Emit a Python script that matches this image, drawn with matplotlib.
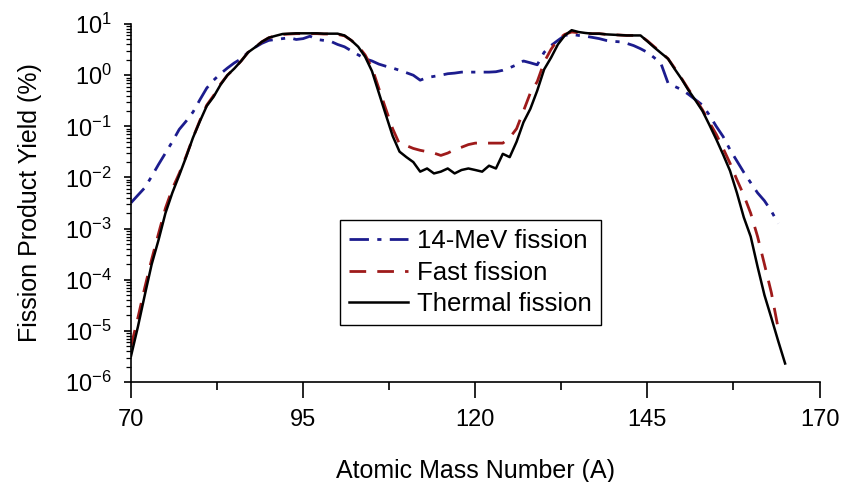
import matplotlib
matplotlib.use("Agg")
import matplotlib.pyplot as plt
from matplotlib.ticker import FixedLocator, LogLocator, NullFormatter

plt.rcParams['font.family'] = ['Liberation Sans', 'DejaVu Sans']

# Atomic mass numbers
A_thermal = list(range(70, 166))
thermal = [3.2e-6, 1.2e-5, 5e-5, 2e-4, 6e-4, 2e-3, 5e-3, 1.1e-2, 2.5e-2, 6e-2,
           0.125, 0.25, 0.38, 0.65, 1.0, 1.35, 1.9, 2.8, 3.5, 4.5,
           5.4, 5.9, 6.4, 6.5, 6.6, 6.6, 6.6, 6.6, 6.5, 6.5,
           6.5, 6.0, 4.8, 3.6, 2.3, 1.2, 0.45, 0.17, 0.065, 0.032,
           0.025, 0.02, 0.013, 0.015, 0.012, 0.013, 0.015, 0.012, 0.014, 0.015,
           0.014, 0.013, 0.017, 0.015, 0.029, 0.025, 0.05, 0.12, 0.22, 0.5,
           1.3, 2.2, 4.0, 6.0, 7.6, 7.0, 6.7, 6.5, 6.5, 6.3,
           6.2, 6.1, 6.0, 6.0, 6.0, 4.6, 3.5, 2.7, 2.1, 1.3,
           0.83, 0.5, 0.32, 0.2, 0.107, 0.056, 0.028, 0.0135, 5e-3, 1.66e-3,
           7e-4, 1.8e-4, 5e-5, 1.8e-5, 6.3e-6, 2.3e-6]

A_fast = list(range(70, 165))
fast = [5e-6, 1.8e-5, 7e-5, 2.5e-4, 8e-4, 2.5e-3, 6e-3, 1.2e-2, 2.6e-2, 6e-2,
        0.13, 0.26, 0.4, 0.67, 1.0, 1.35, 1.9, 2.8, 3.5, 4.5,
        5.4, 5.9, 6.3, 6.4, 6.5, 6.5, 6.5, 6.5, 6.4, 6.4,
        6.3, 5.9, 4.8, 3.7, 2.5, 1.4, 0.55, 0.22, 0.09, 0.045,
        0.042, 0.037, 0.034, 0.032, 0.03, 0.027, 0.03, 0.035, 0.039, 0.044,
        0.047, 0.047, 0.047, 0.047, 0.047, 0.06, 0.09, 0.2, 0.45, 0.75,
        1.8, 3.2, 5.0, 6.3, 7.0, 6.8, 6.6, 6.5, 6.5, 6.3,
        6.2, 6.1, 6.0, 6.0, 5.9, 4.7, 3.6, 2.8, 2.1, 1.35,
        0.85, 0.52, 0.34, 0.21, 0.12, 0.07, 0.037, 0.019, 9e-3, 4.5e-3,
        2e-3, 7e-4, 2e-4, 5.6e-5, 1.1e-5]

A_mev = list(range(70, 165))
mev14 = [3.2e-3, 4.5e-3, 6.3e-3, 0.0105, 0.018, 0.03, 0.05, 0.087, 0.126, 0.19,
         0.33, 0.56, 0.8, 1.07, 1.38, 1.74, 2.1, 2.8, 3.5, 4.2,
         4.8, 5.0, 5.2, 5.4, 5.0, 5.2, 5.8, 5.0, 4.8, 4.6,
         4.0, 3.6, 3.0, 2.5, 2.1, 1.9, 1.65, 1.5, 1.38, 1.25,
         1.12, 1.0, 0.8, 0.9, 0.95, 1.0, 1.07, 1.1, 1.15, 1.15,
         1.15, 1.15, 1.15, 1.17, 1.25, 1.4, 1.6, 1.9, 1.75, 1.6,
         2.8, 3.8, 4.8, 6.0, 6.3, 6.0, 5.8, 5.5, 5.2, 4.8,
         4.6, 4.5, 4.2, 3.8, 3.3, 2.8, 2.2, 1.65, 0.7, 0.6,
         0.52, 0.42, 0.33, 0.26, 0.166, 0.1, 0.063, 0.035, 0.021, 0.0126,
         7.9e-3, 5e-3, 3.5e-3, 2.2e-3, 1.26e-3]

labels = ["14-MeV fission", "Fast fission", "Thermal fission"]
x_ticks = [70, 95, 120, 145, 170]
x_minor = [82.5, 107.5, 132.5, 157.5]

fig = plt.figure(figsize=(8.49, 4.82), dpi=100)
ax = fig.add_axes([0.1543, 0.2075, 0.811, 0.7425])

ax.plot(A_mev, mev14, color='#1c1c8e', lw=2.0, linestyle=(0, (7, 3, 1.5, 3)), label=labels[0])
ax.plot(A_fast, fast, color='#9e1a1a', lw=2.0, linestyle=(0, (6, 4)), label=labels[1])
ax.plot(A_thermal, thermal, color='black', lw=1.8, label=labels[2])

ax.set_yscale('log')
ax.set_ylim(1e-6, 10)
ax.set_xlim(70, 170)
ax.set_xticks(x_ticks)
ax.xaxis.set_minor_locator(FixedLocator(x_minor))
ax.yaxis.set_major_locator(LogLocator(base=10, numticks=20))
ax.yaxis.set_minor_locator(LogLocator(base=10, subs=range(2, 10), numticks=20))
ax.yaxis.set_minor_formatter(NullFormatter())

for s in ['top', 'right']:
    ax.spines[s].set_visible(False)
for s in ['left', 'bottom']:
    ax.spines[s].set_linewidth(1.2)

ax.tick_params(axis='x', which='major', direction='out', length=11.5, width=1.2, labelsize=17, pad=8)
ax.tick_params(axis='x', which='minor', direction='out', length=5.8, width=1.2)
ax.tick_params(axis='y', which='major', direction='out', length=5, width=1.2, labelsize=17, pad=9)
ax.tick_params(axis='y', which='minor', direction='out', length=3.6, width=0.9)

ax.set_xlabel("Atomic Mass Number (A)", fontsize=18, labelpad=20)
ax.set_ylabel("Fission Product Yield (%)", fontsize=18, labelpad=16)

leg = ax.legend(loc='upper left', bbox_to_anchor=(0.304, 0.4525), borderaxespad=0,
                fontsize=18.5, handlelength=2.3, fancybox=False, framealpha=1,
                edgecolor='black', labelspacing=0.3, borderpad=0.35, handletextpad=0.35)
leg.get_frame().set_linewidth(1.0)

fig.savefig("out.png", dpi=100)
